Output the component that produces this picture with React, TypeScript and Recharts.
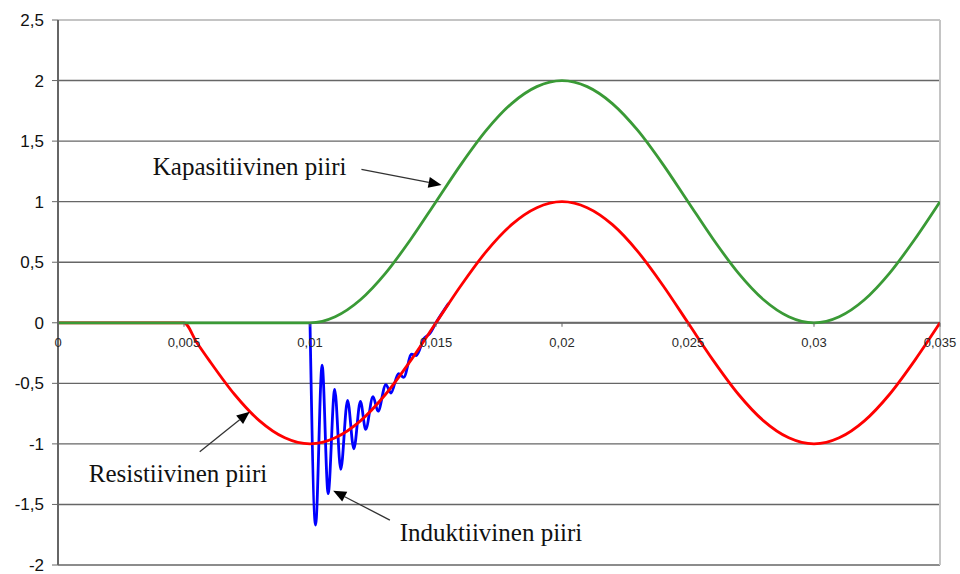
import { CartesianGrid, Line, LineChart, ReferenceDot, ReferenceLine, XAxis, YAxis } from "recharts";

// time axis (s) and tick labels
const xTicks = [0, 0.005, 0.01, 0.015, 0.02, 0.025, 0.03, 0.035];
const xTickLabels = ["0", "0,005", "0,01", "0,015", "0,02", "0,025", "0,03", "0,035"];
const yTicks = [-2, -1.5, -1, -0.5, 0, 0.5, 1, 1.5, 2, 2.5];

// Resistiivinen piiri (red)
const redT = [
  0, 0.005, 0.0055, 0.006, 0.007, 0.008, 0.009, 0.01, 0.011, 0.012, 0.013, 0.014, 0.015, 0.016, 0.017, 0.018,
  0.019, 0.02, 0.021, 0.022, 0.023, 0.024, 0.025, 0.026, 0.027, 0.028, 0.029, 0.03, 0.031, 0.032, 0.033, 0.034,
  0.035,
];
const redV = [
  0, 0, -0.16, -0.31, -0.59, -0.81, -0.95, -1, -0.95, -0.81, -0.59, -0.31, 0, 0.31, 0.59, 0.81, 0.95, 1, 0.95,
  0.81, 0.59, 0.31, 0, -0.31, -0.59, -0.81, -0.95, -1, -0.95, -0.81, -0.59, -0.31, 0,
];

// Kapasitiivinen piiri (green)
const greenT = [
  0, 0.01, 0.011, 0.012, 0.013, 0.014, 0.015, 0.016, 0.017, 0.018, 0.019, 0.02, 0.021, 0.022, 0.023, 0.024, 0.025,
  0.026, 0.027, 0.028, 0.029, 0.03, 0.031, 0.032, 0.033, 0.034, 0.035,
];
const greenV = [
  0, 0, 0.05, 0.19, 0.41, 0.69, 1, 1.31, 1.59, 1.81, 1.95, 2, 1.95, 1.81, 1.59, 1.31, 1, 0.69, 0.41, 0.19, 0.05, 0,
  0.05, 0.19, 0.41, 0.69, 1,
];

// Induktiivinen piiri (blue)
const blueT = [
  0.01, 0.01022, 0.01048, 0.01072, 0.01098, 0.01122, 0.01149, 0.01174, 0.012, 0.01221, 0.0125, 0.0127, 0.01301,
  0.01321, 0.01351, 0.01372, 0.01403, 0.01422, 0.01452, 0.01475, 0.015, 0.0155,
];
const blueV = [
  0, -1.67, -0.35, -1.41, -0.55, -1.21, -0.64, -1.04, -0.65, -0.88, -0.61, -0.73, -0.51, -0.58, -0.42, -0.45, -0.26,
  -0.27, -0.13, -0.09, 0, 0.16,
];

const redData = redT.map((t, i) => ({ t, v: redV[i] }));
const greenData = greenT.map((t, i) => ({ t, v: greenV[i] }));
const blueData = blueT.map((t, i) => ({ t, v: blueV[i] }));

// annotations: text anchor (left, baseline) and arrow from -> tip, in data units
const notes = [
  { text: "Kapasitiivinen piiri", t: 0.00376, v: 1.22, from: [0.01204, 1.267], to: [0.01522, 1.138] },
  { text: "Resistiivinen piiri", t: 0.00122, v: -1.312, from: [0.005625, -1.065], to: [0.00761, -0.734] },
  { text: "Induktiivinen piiri", t: 0.01356, v: -1.799, from: [0.01317, -1.629], to: [0.01092, -1.387] },
];

const serif = "'Liberation Serif', 'Times New Roman', serif";
const sans = "'Liberation Sans', Arial, sans-serif";

function Arrow(props: any) {
  const { x1, y1, x2, y2 } = props;
  const dx = x2 - x1;
  const dy = y2 - y1;
  const len = Math.sqrt(dx * dx + dy * dy) || 1;
  const ux = dx / len;
  const uy = dy / len;
  const hl = 13;
  const hw = 5.5;
  const bx = x2 - ux * hl;
  const by = y2 - uy * hl;
  const pts = `${x2},${y2} ${bx - uy * hw},${by + ux * hw} ${bx + uy * hw},${by - ux * hw}`;
  return (
    <g>
      <line x1={x1} y1={y1} x2={bx} y2={by} stroke="#333" strokeWidth={1.3} />
      <polygon points={pts} fill="#000" />
    </g>
  );
}

export default function App() {
  return (
    <div style={{ position: "absolute", left: 0, top: 0, background: "#fff" }}>
      <LineChart width={960} height={574} margin={{ top: 20, right: 20, bottom: 9, left: 0 }}>
        <CartesianGrid vertical={false} stroke="#666" strokeWidth={1.4} />
        <XAxis type="number" dataKey="t" domain={[0, 0.035]} ticks={xTicks} hide allowDataOverflow />
        <YAxis
          type="number"
          domain={[-2, 2.5]}
          ticks={yTicks}
          width={58}
          interval={0}
          axisLine={{ stroke: "#666", strokeWidth: 2 }}
          tickLine={{ stroke: "#666" }}
          tickSize={6}
          tickMargin={8}
          tick={{ fill: "#111", fontSize: 17, fontFamily: sans }}
          tickFormatter={(v: number) => String(v).replace(".", ",")}
        />
        <ReferenceLine y={2.5} stroke="#c4c4c4" strokeWidth={2} />
        <ReferenceLine x={0.035} stroke="#c4c4c4" strokeWidth={2} />
        <ReferenceLine y={0} stroke="#6a6a6a" strokeWidth={2} />
        {xTicks.map((t, i) => (
          <ReferenceDot
            key={t}
            x={t}
            y={0}
            r={0}
            shape={(p: any) => (
              <g>
                <line x1={p.cx} y1={p.cy} x2={p.cx} y2={p.cy + 4} stroke="#666" strokeWidth={1} />
                <text
                  x={p.cx}
                  y={p.cy + 24}
                  textAnchor="middle"
                  fontSize={13}
                  fontFamily={sans}
                  fill="#2a2a2a"
                >
                  {xTickLabels[i]}
                </text>
              </g>
            )}
          />
        ))}
        <Line
          data={blueData}
          dataKey="v"
          type="monotone"
          stroke="#0000ff"
          strokeWidth={2.8}
          dot={false}
          isAnimationActive={false}
        />
        <Line
          data={redData}
          dataKey="v"
          type="monotone"
          stroke="#ff0000"
          strokeWidth={2.8}
          dot={false}
          isAnimationActive={false}
        />
        <Line
          data={greenData}
          dataKey="v"
          type="monotone"
          stroke="#3a9a36"
          strokeWidth={2.8}
          dot={false}
          isAnimationActive={false}
        />
        {notes.map((n) => (
          <ReferenceLine
            key={n.text + "-arrow"}
            segment={[
              { x: n.from[0], y: n.from[1] },
              { x: n.to[0], y: n.to[1] },
            ]}
            shape={(p: any) => <Arrow {...p} />}
          />
        ))}
        {notes.map((n) => (
          <ReferenceDot
            key={n.text}
            x={n.t}
            y={n.v}
            r={0}
            shape={(p: any) => (
              <text x={p.cx} y={p.cy} fontSize={25} fontFamily={serif} fill="#111">
                {n.text}
              </text>
            )}
          />
        ))}
      </LineChart>
    </div>
  );
}
